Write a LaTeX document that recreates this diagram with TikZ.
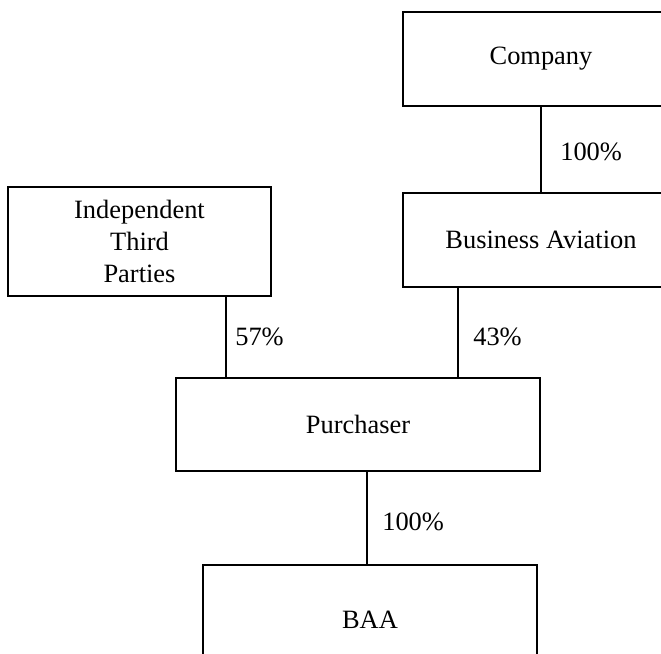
\documentclass[tikz,border=0pt]{standalone}
\usepackage{fontspec}
\setmainfont{Liberation Serif}
\usetikzlibrary{positioning}

\tikzset{
  entity/.style={draw, line width=0.9pt, align=center, font=\fontsize{18.8}{22.5}\selectfont},
  pct/.style={anchor=west, inner sep=0pt, font=\fontsize{18.8}{22.5}\selectfont}
}

\begin{document}
\begin{tikzpicture}

\clip (0,0) rectangle (16.525,-16.325);

\node[entity, minimum width=6.9cm, minimum height=2.35cm] (company) at (13.525,-1.475) {Company};

\node[entity, minimum width=6.9cm, minimum height=2.35cm] (aviation) at (13.525,-6) {Business Aviation};

\node[entity, minimum width=6.575cm, minimum height=2.725cm] (third) at (3.4875,-6.0375) {Independent\\Third\\Parties};

\node[entity, minimum width=9.1cm, minimum height=2.325cm] (purchaser) at (8.95,-10.6125) {Purchaser};

\node[entity, minimum width=8.35cm, minimum height=2.725cm] (baa) at (9.25,-15.4875) {BAA};

\coordinate (thirdlink) at (5.65,0);
\coordinate (aviationlink) at (11.45,0);
\coordinate (baalink) at (9.175,0);

\draw[line width=0.9pt] (company.south) -- (aviation.north);
\draw[line width=0.9pt] (third.south -| thirdlink) -- (purchaser.north -| thirdlink);
\draw[line width=0.9pt] (aviation.south -| aviationlink) -- (purchaser.north -| aviationlink);
\draw[line width=0.9pt] (purchaser.south -| baalink) -- (baa.north -| baalink);

\node[pct] (pctcompany) at (14,-3.8) {100\%};
\node[pct] (pctthird) at (5.875,-8.425) {57\%};
\node[pct] (pctaviation) at (11.825,-8.425) {43\%};
\node[pct] (pctpurchaser) at (9.55,-13.05) {100\%};

\end{tikzpicture}
\end{document}
